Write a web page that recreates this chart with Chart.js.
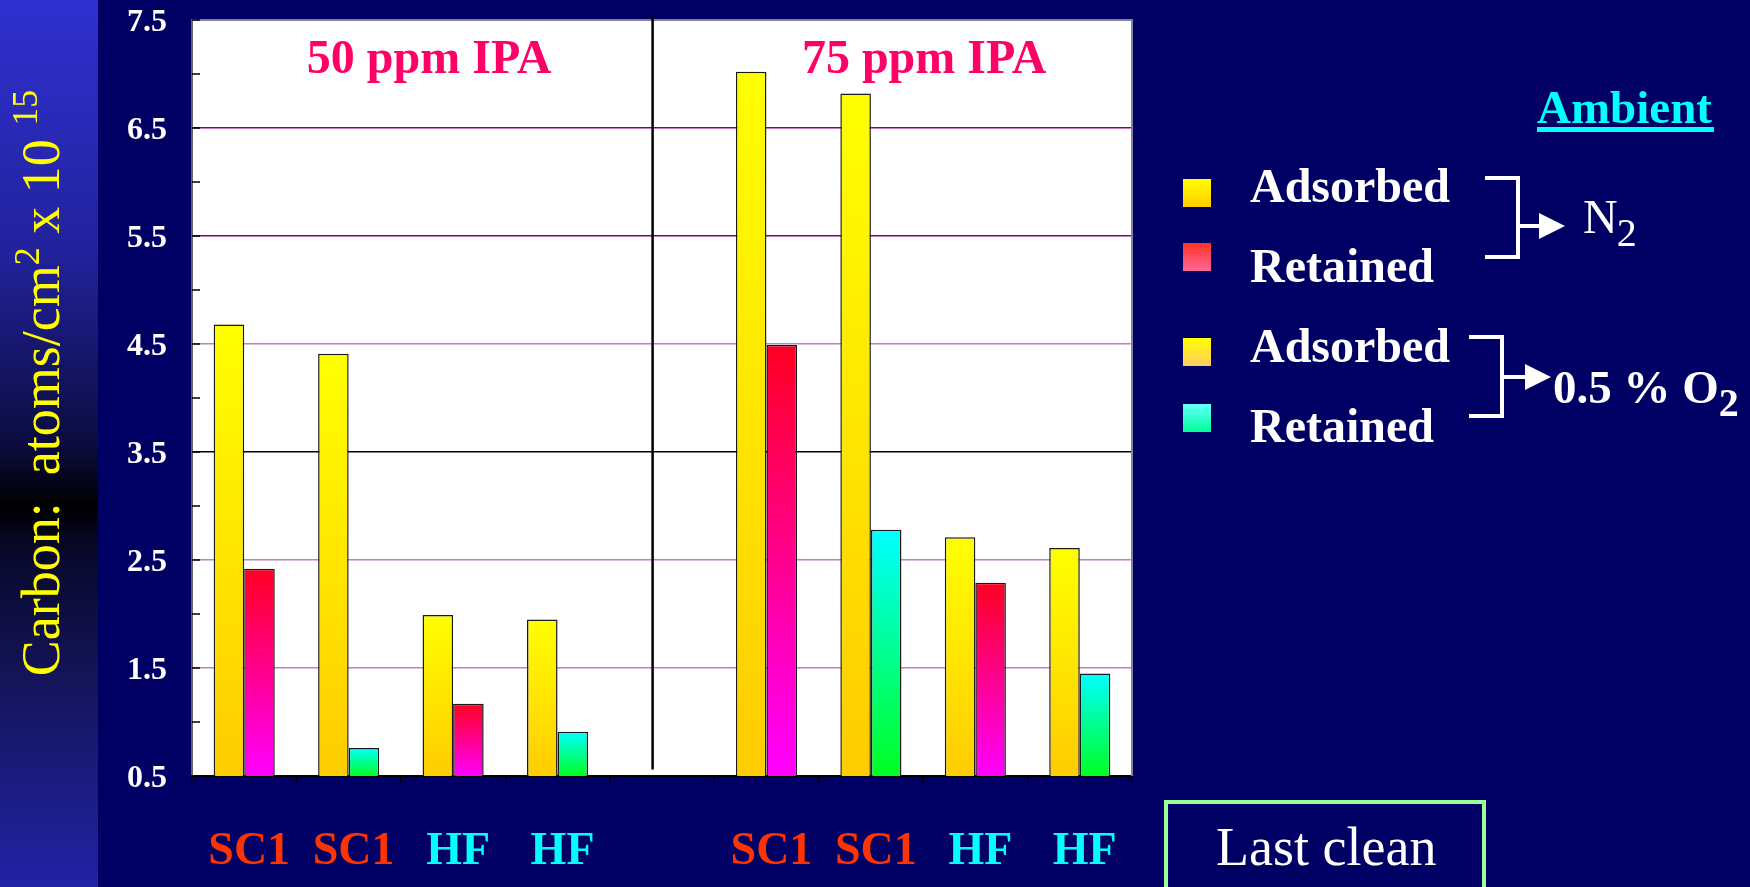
<!DOCTYPE html>
<html>
<head>
<meta charset="utf-8">
<script src="https://cdn.jsdelivr.net/npm/chart.js@4.4.1/dist/chart.umd.min.js"></script>
<style>
    html, body { margin: 0; padding: 0; background: #000064; }
    #page { position: relative; width: 1750px; height: 887px; overflow: hidden; }
    #sidebar {
        position: absolute; left: 0; top: 0; width: 98px; height: 887px;
        background: linear-gradient(to bottom, #3030d0 0%, #22229e 28%, #0c0c40 50%, #000000 57%, #08082a 62%, #141458 76%, #2222a6 100%);
    }
    #wrap { position: absolute; left: 0; top: 0; width: 1750px; height: 887px; }
</style>
</head>
<body>
<div id="page">
    <div id="sidebar"></div>
    <div id="wrap"><canvas id="chart"></canvas></div>
</div>
<script>
// categories along the x axis (the 5th slot is the gap between the two IPA groups)
var categories = ['SC1', 'SC1', 'HF', 'HF', '', 'SC1', 'SC1', 'HF', 'HF'];
var ambient = ['N2', 'O2', 'N2', 'O2', null, 'N2', 'O2', 'N2', 'O2'];
var adsorbed = [4.68, 4.41, 1.99, 1.95, null, 7.02, 6.82, 2.71, 2.61];
var retained = [2.42, 0.76, 1.17, 0.91, null, 4.49, 2.78, 2.29, 1.45];
var groupTitles = ['50 ppm IPA', '75 ppm IPA'];
var yTickLabels = ['0.5', '1.5', '2.5', '3.5', '4.5', '5.5', '6.5', '7.5'];
var legendLabels = ['Adsorbed', 'Retained', 'Adsorbed', 'Retained'];

var SERIF = "'Liberation Serif', 'Times New Roman', serif";

function barGradient(c, top, bottom) {
    var chart = c.chart;
    var y = chart.scales.y;
    if (!y || !c.parsed || c.parsed.y == null) return top;
    var y0 = y.getPixelForValue(c.parsed.y);
    var y1 = y.getPixelForValue(y.min);
    if (!isFinite(y0) || !isFinite(y1) || y0 === y1) return top;
    var g = chart.ctx.createLinearGradient(0, y0, 0, y1);
    g.addColorStop(0, top);
    g.addColorStop(1, bottom);
    return g;
}

function boxGradient(ctx, x, y, w, h, top, bottom) {
    var g = ctx.createLinearGradient(0, y, 0, y + h);
    g.addColorStop(0, top);
    g.addColorStop(1, bottom);
    ctx.fillStyle = g;
    ctx.fillRect(x, y, w, h);
}

function polyline(ctx, pts) {
    ctx.beginPath();
    ctx.moveTo(pts[0][0], pts[0][1]);
    for (var i = 1; i < pts.length; i++) ctx.lineTo(pts[i][0], pts[i][1]);
    ctx.stroke();
}

function arrowHead(ctx, x, y) {
    ctx.beginPath();
    ctx.moveTo(x - 26, y - 13);
    ctx.lineTo(x, y);
    ctx.lineTo(x - 26, y + 13);
    ctx.closePath();
    ctx.fill();
}

var decorPlugin = {
    id: 'decor',
    beforeDraw: function(chart) {
        var a = chart.chartArea;
        var ctx = chart.ctx;
        ctx.save();
        ctx.fillStyle = '#ffffff';
        ctx.fillRect(a.left, a.top, a.right - a.left, a.bottom - a.top);
        ctx.restore();
    },
    afterDatasetsDraw: function(chart) {
        var a = chart.chartArea;
        var ctx = chart.ctx;
        var xs = chart.scales.x, ys = chart.scales.y;
        ctx.save();

        // frame top / right
        ctx.strokeStyle = '#8080a0';
        ctx.lineWidth = 2;
        ctx.beginPath();
        ctx.moveTo(a.left, a.top);
        ctx.lineTo(a.right, a.top);
        ctx.lineTo(a.right, a.bottom);
        ctx.stroke();

        // short inward ticks on the value axis
        ctx.strokeStyle = '#000000';
        ctx.lineWidth = 1.5;
        ys.ticks.forEach(function(t) {
            var py = ys.getPixelForValue(t.value);
            ctx.beginPath();
            ctx.moveTo(a.left, py);
            ctx.lineTo(a.left + 8, py);
            ctx.stroke();
        });

        // divider between the two concentrations
        var dx = xs.getPixelForValue(3.91);
        ctx.lineWidth = 2.5;
        ctx.beginPath();
        ctx.moveTo(dx, a.top - 4);
        ctx.lineTo(dx, ys.getPixelForValue(0.56));
        ctx.stroke();

        // group titles
        ctx.fillStyle = '#ff0066';
        ctx.font = 'bold 48px ' + SERIF;
        ctx.textAlign = 'center';
        ctx.textBaseline = 'alphabetic';
        ctx.fillText(groupTitles[0], xs.getPixelForValue(1.77), ys.getPixelForValue(7.01));
        ctx.fillText(groupTitles[1], xs.getPixelForValue(6.51), ys.getPixelForValue(7.01));
        ctx.restore();
    },
    afterDraw: function(chart) {
        var ctx = chart.ctx;
        ctx.save();

        // rotated y title with superscripts
        ctx.translate(59, 383);
        ctx.rotate(-Math.PI / 2);
        ctx.fillStyle = '#ffff00';
        ctx.textBaseline = 'alphabetic';
        ctx.textAlign = 'left';
        var parts = [
            ['Carbon:  atoms/cm', '54px ' + SERIF, 0],
            ['2', '36px ' + SERIF, -20],
            [' x 10 ', '54px ' + SERIF, 0],
            ['15', '36px ' + SERIF, -22]
        ];
        var total = 0;
        parts.forEach(function(p) { ctx.font = p[1]; total += ctx.measureText(p[0]).width; });
        var x = -total / 2;
        parts.forEach(function(p) {
            ctx.font = p[1];
            ctx.fillText(p[0], x, p[2]);
            x += ctx.measureText(p[0]).width;
        });
        ctx.setTransform(1, 0, 0, 1, 0, 0);

        // "Ambient" heading
        ctx.fillStyle = '#00ffff';
        ctx.font = 'bold 47px ' + SERIF;
        ctx.fillText('Ambient', 1537, 123);
        var aw = ctx.measureText('Ambient').width;
        ctx.fillRect(1537, 127, aw + 2, 5);

        // legend swatches
        boxGradient(ctx, 1183, 179, 28, 28, '#ffff00', '#ffcc00');
        boxGradient(ctx, 1183, 243, 28, 28, '#ff3322', '#ff6699');
        boxGradient(ctx, 1183, 338, 28, 28, '#ffff00', '#ffcc66');
        boxGradient(ctx, 1183, 404, 28, 28, '#66ffff', '#00ff99');

        ctx.fillStyle = '#ffffff';
        ctx.font = 'bold 48px ' + SERIF;
        ctx.fillText(legendLabels[0], 1250, 202);
        ctx.fillText(legendLabels[1], 1250, 282);
        ctx.fillText(legendLabels[2], 1250, 362);
        ctx.fillText(legendLabels[3], 1250, 442);

        // brackets and arrows
        ctx.strokeStyle = '#ffffff';
        ctx.lineWidth = 4;
        polyline(ctx, [[1485, 178], [1518, 178], [1518, 257], [1485, 257]]);
        polyline(ctx, [[1518, 226], [1542, 226]]);
        arrowHead(ctx, 1565, 226);
        polyline(ctx, [[1469, 337], [1502, 337], [1502, 416], [1469, 416]]);
        polyline(ctx, [[1502, 377], [1527, 377]]);
        arrowHead(ctx, 1551, 377);

        ctx.font = '48px ' + SERIF;
        ctx.fillText('N', 1583, 233);
        var nw = ctx.measureText('N').width;
        ctx.font = '40px ' + SERIF;
        ctx.fillText('2', 1583 + nw - 1, 246);

        ctx.font = 'bold 47px ' + SERIF;
        ctx.fillText('0.5 % O', 1553, 403);
        var ow = ctx.measureText('0.5 % O').width;
        ctx.font = 'bold 40px ' + SERIF;
        ctx.fillText('2', 1553 + ow, 416);

        // "Last clean" box
        ctx.strokeStyle = '#99ff99';
        ctx.lineWidth = 4;
        ctx.strokeRect(1166, 802, 318, 120);
        ctx.fillStyle = '#ffffff';
        ctx.font = '54px ' + SERIF;
        ctx.fillText('Last clean', 1216, 865);

        ctx.restore();
    }
};

function gridColor(c) {
    var v = c.tick ? c.tick.value : null;
    if (v == null || v % 1 !== 0.5 || v === 0.5 || v === 7.5) return 'rgba(0,0,0,0)';
    if (v === 3.5) return '#000000';
    if (v >= 5.5) return '#800080';
    return '#c080c0';
}

new Chart('chart', {
    type: 'bar',
    data: {
        labels: categories,
        datasets: [{
            label: 'Adsorbed',
            data: adsorbed,
            backgroundColor: function(c) { return barGradient(c, '#ffff00', '#ffcc00'); },
            borderColor: '#1a1a1a',
            borderWidth: 1.5
        }, {
            label: 'Retained',
            data: retained,
            backgroundColor: function(c) {
                if (ambient[c.dataIndex] === 'O2') return barGradient(c, '#00ffff', '#00ff22');
                return barGradient(c, '#ff0022', '#ff00ff');
            },
            borderColor: '#1a1a1a',
            borderWidth: 1.5
        }]
    },
    options: {
        responsive: true,
        maintainAspectRatio: false,
        animation: false,
        categoryPercentage: 0.585,
        barPercentage: 1.0,
        layout: { padding: { left: 98, right: 618, top: 20, bottom: 0 } },
        plugins: {
            legend: { display: false },
            tooltip: { enabled: false }
        },
        scales: {
            y: {
                min: 0.5,
                max: 7.5,
                afterFit: function(scale) {
                    scale.width = 94;
                    scale.paddingTop = 0;
                    scale.paddingBottom = 0;
                },
                ticks: {
                    stepSize: 0.5,
                    autoSkip: false,
                    padding: 25,
                    labelOffset: 3,
                    color: '#ffffff',
                    font: { family: SERIF, size: 32, weight: 'bold' },
                    callback: function(value) {
                        var s = value.toFixed(1);
                        return yTickLabels.indexOf(s) >= 0 ? s : '';
                    }
                },
                grid: { color: gridColor, lineWidth: 1.5, drawTicks: false },
                border: { color: '#666666', width: 2 }
            },
            x: {
                afterFit: function(scale) { scale.height = 111; },
                ticks: {
                    autoSkip: false,
                    maxRotation: 0,
                    padding: 42,
                    labelOffset: 5,
                    color: function(c) { return categories[c.index] === 'SC1' ? '#ff3300' : '#00ffff'; },
                    font: { family: SERIF, size: 46, weight: 'bold' }
                },
                grid: { drawOnChartArea: false, drawTicks: true, tickLength: 7, color: '#000000', lineWidth: 1.5 },
                border: { color: '#000000', width: 2 }
            }
        }
    },
    plugins: [decorPlugin]
});
</script>
</body>
</html>
